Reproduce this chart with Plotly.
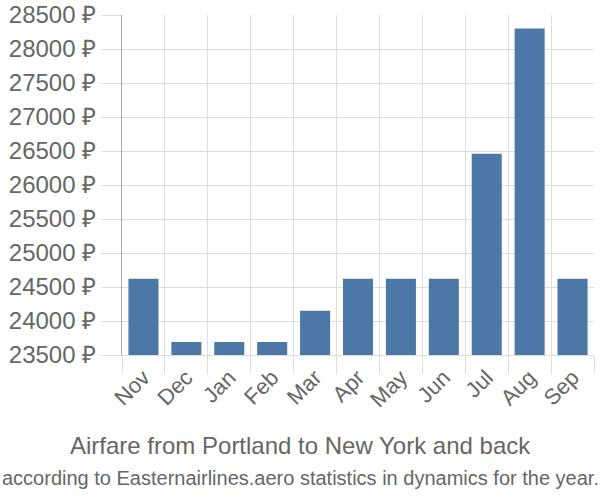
import plotly.graph_objects as go

months = ["Nov", "Dec", "Jan", "Feb", "Mar", "Apr", "May", "Jun", "Jul", "Aug", "Sep"]
prices = [24620, 23690, 23690, 23690, 24150, 24620, 24620, 24620, 26460, 28300, 24620]

title_text = "Airfare from Portland to New York and back"
subtitle_text = "according to Easternairlines.aero statistics in dynamics for the year."

W, H = 600, 500
plot_left, plot_right = 122, 594
plot_top, plot_bottom = 15, 355
plot_h = plot_bottom - plot_top
plot_w = plot_right - plot_left

def py(pixel_y):
    return 1 - (pixel_y - plot_top) / plot_h

def px(pixel_x):
    return (pixel_x - plot_left) / plot_w

fig = go.Figure()
fig.add_trace(go.Bar(
    x=months, y=prices,
    marker=dict(color="#4c78a8", line=dict(width=0)),
))

fig.update_layout(
    width=W, height=H,
    margin=dict(l=plot_left, r=W - plot_right, t=plot_top, b=H - plot_bottom, pad=0),
    plot_bgcolor="white", paper_bgcolor="white",
    bargap=0.3,
    showlegend=False,
    font=dict(family="Liberation Sans, Arial, sans-serif", color="#666666", size=22),
    xaxis=dict(
        tickson="boundaries", ticks="outside", ticklen=18, tickcolor="#dddddd",
        showgrid=True, gridcolor="#dddddd", gridwidth=1,
        showline=True, linecolor="#dddddd",
        tickangle=-45, tickfont=dict(size=22, color="#666666"),
        automargin=False, ticklabeloverflow="allow",
    ),
    yaxis=dict(
        range=[23500, 28500], dtick=500, ticksuffix=" ₽", tickformat="d",
        ticks="outside", ticklen=20, tickcolor="#dddddd",
        showgrid=True, gridcolor="#dddddd", gridwidth=1,
        showline=True, linecolor="#aaaaaa",
        zeroline=False,
        tickfont=dict(size=24, color="#666666"),
        automargin=False, ticklabeloverflow="allow",
    ),
    annotations=[
        dict(text=title_text, x=px(300), xref="paper", xanchor="center",
             y=py(445), yref="paper", yanchor="middle", showarrow=False,
             font=dict(size=24, color="#666666")),
        dict(text=subtitle_text, x=px(300), xref="paper", xanchor="center",
             y=py(478), yref="paper", yanchor="middle", showarrow=False,
             font=dict(size=20, color="#666666")),
    ],
)

fig.write_html("out.html", config={"displayModeBar": False},
               post_script="document.body.style.margin='0';")
